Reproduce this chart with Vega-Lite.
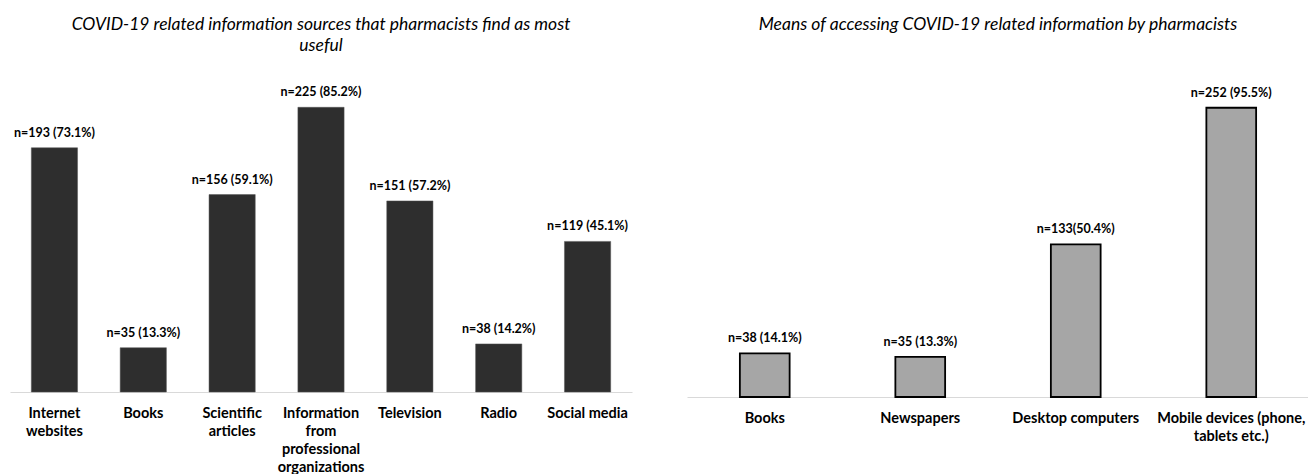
{
  "$schema": "https://vega.github.io/schema/vega-lite/v6.json",
  "description": "COVID-19 information sources and means of access among pharmacists.",
  "padding": {"left": 10, "top": 15, "right": 0, "bottom": 0},
  "config": {
    "font": "Lato",
    "view": {"stroke": null},
    "concat": {"spacing": 55},
    "title": {"fontSize": 17.5, "fontStyle": "italic", "fontWeight": "normal", "color": "#000", "frame": "group", "lineHeight": 21},
    "axisX": {
      "title": null,
      "ticks": false,
      "labelAngle": 0,
      "labelFontSize": 14.5,
      "labelFontWeight": "bold",
      "labelColor": "#000",
      "labelPadding": 14,
      "labelLineHeight": 18,
      "labelLimit": 0,
      "labelOverlap": false,
      "labelBound": false,
      "domainColor": "#d9d9d9",
      "domainWidth": 1.2,
      "labelExpr": "split(datum.label, '|')"
    }
  },
  "hconcat": [
    {
      "title": {"text": ["COVID-19 related information sources that pharmacists find as most", "useful"], "offset": 9},
      "width": 622,
      "height": 329,
      "data": {
        "values": [
          {"source": "Internet|websites", "n": 193, "label": "n=193 (73.1%)"},
          {"source": "Books", "n": 35, "label": "n=35 (13.3%)"},
          {"source": "Scientific|articles", "n": 156, "label": "n=156 (59.1%)"},
          {"source": "Information|from|professional|organizations", "n": 225, "label": "n=225 (85.2%)"},
          {"source": "Television", "n": 151, "label": "n=151 (57.2%)"},
          {"source": "Radio", "n": 38, "label": "n=38 (14.2%)"},
          {"source": "Social media", "n": 119, "label": "n=119 (45.1%)"}
        ]
      },
      "encoding": {
        "x": {"field": "source", "type": "nominal", "sort": null, "scale": {"paddingInner": 0.48, "paddingOuter": 0.24}},
        "y": {"field": "n", "type": "quantitative", "axis": null, "scale": {"domain": [0, 260], "nice": false}}
      },
      "layer": [
        {"mark": {"type": "bar", "fill": "#2e2e2e", "stroke": "#555", "strokeWidth": 0.5}},
        {
          "mark": {"type": "text", "baseline": "bottom", "dy": -8, "fontSize": 12.5, "fontWeight": "bold", "color": "#000"},
          "encoding": {"text": {"field": "label", "type": "nominal"}}
        }
      ]
    },
    {
      "title": {"text": "Means of accessing COVID-19 related information by pharmacists", "offset": 30},
      "width": 622,
      "height": 334,
      "data": {
        "values": [
          {"means": "Books", "n": 38, "label": "n=38 (14.1%)"},
          {"means": "Newspapers", "n": 35, "label": "n=35 (13.3%)"},
          {"means": "Desktop computers", "n": 133, "label": "n=133(50.4%)"},
          {"means": "Mobile devices (phone,|tablets etc.)", "n": 252, "label": "n=252 (95.5%)"}
        ]
      },
      "encoding": {
        "x": {"field": "means", "type": "nominal", "sort": null, "scale": {"paddingInner": 0.68, "paddingOuter": 0.34}},
        "y": {"field": "n", "type": "quantitative", "axis": null, "scale": {"domain": [0, 291], "nice": false}}
      },
      "layer": [
        {"mark": {"type": "bar", "fill": "#a6a6a6", "stroke": "#000", "strokeWidth": 1.8}},
        {
          "mark": {"type": "text", "baseline": "bottom", "dy": -8, "fontSize": 12.5, "fontWeight": "bold", "color": "#000"},
          "encoding": {"text": {"field": "label", "type": "nominal"}}
        }
      ]
    }
  ]
}
